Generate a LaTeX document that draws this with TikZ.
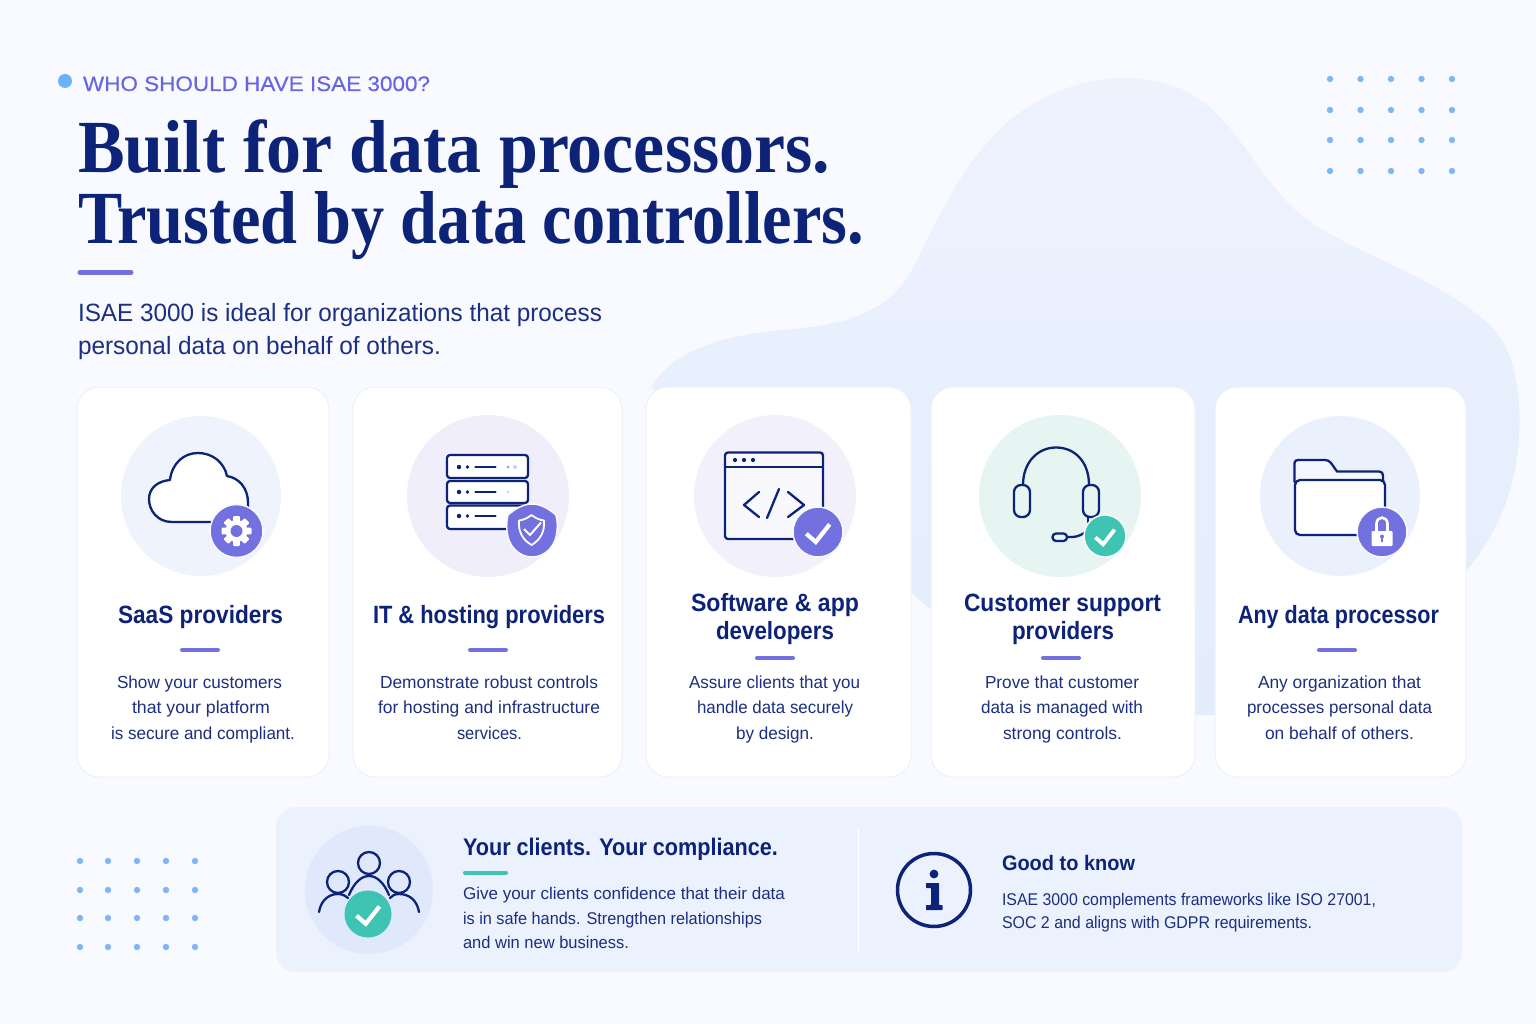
\documentclass[tikz,border=0pt]{standalone}
\usepackage{fontspec}
\usepackage{graphicx}
\setmainfont{Liberation Sans}
\newfontfamily\headfont{Liberation Serif}
\newfontfamily\medfont[FakeBold=0.35]{Liberation Sans}
\definecolor{bgc}{HTML}{F8FAFF}
\definecolor{blobtop}{HTML}{EDF2FD}
\definecolor{blobbot}{HTML}{E4EDFC}
\definecolor{navy}{HTML}{0D2377}
\definecolor{bodyc}{HTML}{1C2F80}
\definecolor{purp}{HTML}{7370E0}
\definecolor{teal2}{HTML}{3FC4B4}
\definecolor{dotc}{HTML}{80B6F4}
\definecolor{cardb}{HTML}{EBF1FC}
\definecolor{panelc}{HTML}{EBF1FD}
\definecolor{ringc}{HTML}{DFE9FB}
\definecolor{tintA}{HTML}{EEF3FD}
\definecolor{tintB}{HTML}{F0EEFA}
\definecolor{tintC}{HTML}{F2F0FB}
\definecolor{tintD}{HTML}{E6F5F2}
\definecolor{tintE}{HTML}{EAF0FC}
\definecolor{eyedot}{HTML}{6CB2FA}
\tikzset{
  txt/.style={inner sep=0pt,outer sep=0pt,anchor=base west},
  cardbox/.style={fill=white,draw=cardb,line width=1pt,rounded corners=22pt},
  icon/.style={draw=navy,line width=2.3pt,line cap=round,line join=round},
  bar/.style={line width=4pt,line cap=round,draw=purp},
  chkline/.style={draw=white,line width=4pt,line join=miter},
  badge/.style={draw=white!60!tintA,line width=1.5pt}
}
% name, x-left, x-right, baseline, size, colour, text
\newcommand{\rt}[7]{\node[txt,text=#6] (#1) at (#2,#4) {\resizebox{\dimexpr#3pt-#2pt\relax}{\height}{\fontsize{#5pt}{#5pt}\selectfont #7}};}
\newcommand{\bt}[7]{\node[txt,text=#6] (#1) at (#2,#4) {\resizebox{\dimexpr#3pt-#2pt\relax}{\height}{\fontsize{#5pt}{#5pt}\selectfont\bfseries #7}};}
\newcommand{\chk}[4]{\begin{scope}[shift={(#1,#2)},scale=#3]\draw[chkline,line width=#4pt] (-11.7,1.7) -- (-2.3,10) -- (11.7,-7.7);\end{scope}}
\begin{document}
\begin{tikzpicture}[x=1pt,y=-1pt]
\useasboundingbox (0,0) rectangle (1536,1024);
\fill[bgc] (0,0) rectangle (1536,1024);
% blob
\shade[top color=blobtop,bottom color=blobbot] (651,387) .. controls (672,352) and (720,335) .. (783,330)
  .. controls (850,325) and (890,310) .. (912,270)
  .. controls (940,215) and (960,165) .. (1010,120)
  .. controls (1060,80) and (1120,70) .. (1170,85)
  .. controls (1225,100) and (1250,165) .. (1290,205)
  .. controls (1335,250) and (1430,270) .. (1490,325)
  .. controls (1520,355) and (1522,410) .. (1518,450)
  .. controls (1512,500) and (1495,535) .. (1467,570)
  -- (1215,715) -- (1195,715) -- (931,610) -- (911,593) -- (800,500) -- cycle;
% dots
\foreach \x in {1330,1360.5,1391,1421.5,1452}\foreach \y in {79,110,140,171}\fill[dotc] (\x,\y) circle (3.2);
\foreach \x in {80,108,137,166,195}\foreach \y in {861,890,918,947}\fill[dotc] (\x,\y) circle (3.2);
% heading
\fill[eyedot] (65,81) circle (7);
\node[txt,text=purp!90!blue] (eyebrow) at (83,91) {\resizebox{347pt}{\height}{\fontsize{21pt}{21pt}\selectfont\medfont WHO SHOULD HAVE ISAE 3000?}};
\node[txt,text=navy] (titleA) at (78,172.5) {\resizebox{752pt}{\height}{\fontsize{75pt}{75pt}\selectfont\headfont\bfseries Built for data processors.}};
\node[txt,text=navy] (titleB) at (78,243.5) {\resizebox{786pt}{\height}{\fontsize{75pt}{75pt}\selectfont\headfont\bfseries Trusted by data controllers.}};
\draw[line width=5pt,line cap=round,draw=purp] (80,272.5) -- (131,272.5);
\rt{introA}{78}{602}{321}{25}{bodyc}{ISAE 3000 is ideal for organizations that process}
\rt{introB}{78}{441}{354}{25}{bodyc}{personal data on behalf of others.}
% cards
\draw[cardbox] (77,387) rectangle (329,777);
\draw[cardbox] (353,387) rectangle (622,777);
\draw[cardbox] (646,387) rectangle (911,777);
\draw[cardbox] (931,387) rectangle (1195,777);
\draw[cardbox] (1215,387) rectangle (1466,777);
% icon discs
\fill[tintA] (201,496) circle (80);
\fill[tintB] (488,496) circle (81);
\fill[tintC] (775,496) circle (81);
\fill[tintD] (1060,496) circle (81);
\fill[tintE] (1340,496) circle (80);
% cloud
\draw[icon,fill=white] (208,522) -- (172,522) .. controls (157,522) and (149,510) .. (149,499)
  .. controls (149,488) and (158,481) .. (170,480)
  .. controls (172,463) and (184,453) .. (198,453)
  .. controls (212,453) and (224,462) .. (227,476)
  .. controls (239,478) and (248,488) .. (248,503) -- (248,522) -- cycle;
\draw[badge,fill=purp] (236.5,531) circle (26.5);
\begin{scope}[shift={(236.5,531)}]
  \foreach \r in {0,45,90,135}{\fill[white,rotate=\r,rounded corners=1pt] (-3.4,-15) rectangle (3.4,15);}
  \fill[white] (0,0) circle (11);
  \fill[purp] (0,0) circle (6);
\end{scope}
% server
\draw[icon,fill=white,rounded corners=3pt] (447,455) rectangle (528,478);
\draw[icon,fill=white,rounded corners=3pt] (447,481) rectangle (528,503);
\draw[icon,fill=white,rounded corners=3pt] (447,505.5) rectangle (528,529);
\foreach \y in {467,492,516}{
  \fill[navy] (459,\y) circle (2.2);
  \fill[navy] (467.5,\y) circle (1.9);
  \draw[icon] (475.5,\y) -- (495.5,\y);
}
\fill[purp!70] (508,467) circle (1.5);
\fill[purp!35] (515,467) circle (2);
\fill[purp!35] (508,492) circle (1.5);
\draw[badge,fill=purp] (532,504) .. controls (541,504) and (549,509) .. (556,515)
  .. controls (557.5,521) and (557.5,526) .. (557,531)
  .. controls (556,546) and (545,557) .. (532,557)
  .. controls (519,557) and (508,546) .. (507,531)
  .. controls (506.5,526) and (506.5,521) .. (508,515)
  .. controls (515,509) and (523,504) .. (532,504) -- cycle;
\draw[draw=white,line width=1.8pt,line join=round] (531.5,515) .. controls (536,518.5) and (540,520) .. (544,520.5)
  .. controls (545,532) and (540,540) .. (531.5,545)
  .. controls (523,540) and (518,532) .. (519,520.5)
  .. controls (523,520) and (527,518.5) .. (531.5,515) -- cycle;
\draw[draw=white,line width=2pt] (524,529) -- (530,535) -- (541,522.5);
% code window
\draw[icon,fill=tintC!50!white,rounded corners=3pt] (725,452.5) rectangle (823,539);
\draw[icon] (725,467) -- (823,467);
\foreach \x in {735,744,753}\fill[navy] (\x,460) circle (2.1);
\draw[icon] (759,492) -- (744,505) -- (759,517);
\draw[icon] (779,489) -- (767,518);
\draw[icon] (788,492) -- (804,505) -- (788,517);
\draw[badge,fill=purp] (818,532) circle (25);
\chk{818}{532}{1}{4.2}
% headset
\draw[icon] (1023,485) .. controls (1023,462) and (1038,447.5) .. (1056,447.5)
  .. controls (1075,447.5) and (1089,462) .. (1089,485);
\draw[icon,rounded corners=7pt] (1014,485) rectangle (1030,517);
\draw[icon,rounded corners=7pt] (1083,485) rectangle (1099,517);
\draw[icon] (1088,517) -- (1088,522);
\draw[icon,rounded corners=3.5pt] (1052.5,533.5) rectangle (1067,541);
\draw[icon] (1067,537) .. controls (1074,537.5) and (1079,536.5) .. (1084,533);
\draw[badge,fill=teal2] (1105,536) circle (21);
\chk{1105}{536}{0.82}{3.8}
% folder
\draw[icon,fill=white!50!tintE] (1294.5,482) -- (1294.5,463) .. controls (1294.5,461) and (1296,460) .. (1298,460)
  -- (1325,460) .. controls (1328,460) and (1329,461) .. (1331,463) -- (1337,471.5) -- (1379,471.5)
  .. controls (1382,471.5) and (1383,473) .. (1383,476) -- (1383,482);
\draw[icon,fill=white,rounded corners=5pt] (1295,480) rectangle (1385,535);
\draw[badge,fill=purp] (1382,532) circle (25);
\draw[draw=white,line width=2.6pt] (1376.5,533) -- (1376.5,524) .. controls (1376.5,515.5) and (1387.5,515.5) .. (1387.5,524) -- (1387.5,533);
\fill[white,rounded corners=1pt] (1371.5,531) rectangle (1392.5,546);
\fill[purp] (1382,536.5) circle (2);
\fill[purp] (1381.2,536.5) rectangle (1382.8,541.5);
% card titles
\bt{tA}{118}{283}{623}{25}{navy}{SaaS providers}
\bt{tB}{373}{605}{623}{25}{navy}{IT \& hosting providers}
\bt{tCa}{691}{859}{611}{25}{navy}{Software \& app}
\bt{tCb}{716}{834}{639}{25}{navy}{developers}
\bt{tDa}{964}{1161}{611}{25}{navy}{Customer support}
\bt{tDb}{1012}{1114}{639}{25}{navy}{providers}
\bt{tE}{1238}{1439}{623}{25}{navy}{Any data processor}
% card bars
\draw[bar] (182,650) -- (218,650);
\draw[bar] (470,650) -- (506,650);
\draw[bar] (757,658) -- (793,658);
\draw[bar] (1043,658) -- (1079,658);
\draw[bar] (1319,650) -- (1355,650);
% card texts
\rt{bAa}{117}{282}{688}{17.5}{bodyc}{Show your customers}
\rt{bAb}{132}{270}{713}{17.5}{bodyc}{that your platform}
\rt{bAc}{111}{295}{739}{17.5}{bodyc}{is secure and compliant.}
\rt{bBa}{380}{598}{688}{17.5}{bodyc}{Demonstrate robust controls}
\rt{bBb}{378}{600}{713}{17.5}{bodyc}{for hosting and infrastructure}
\rt{bBc}{457}{522}{739}{17.5}{bodyc}{services.}
\rt{bCa}{689}{860}{688}{17.5}{bodyc}{Assure clients that you}
\rt{bCb}{697}{853}{713}{17.5}{bodyc}{handle data securely}
\rt{bCc}{736}{814}{739}{17.5}{bodyc}{by design.}
\rt{bDa}{985}{1139}{688}{17.5}{bodyc}{Prove that customer}
\rt{bDb}{981}{1143}{713}{17.5}{bodyc}{data is managed with}
\rt{bDc}{1003}{1122}{739}{17.5}{bodyc}{strong controls.}
\rt{bEa}{1258}{1421}{688}{17.5}{bodyc}{Any organization that}
\rt{bEb}{1247}{1432}{713}{17.5}{bodyc}{processes personal data}
\rt{bEc}{1265}{1414}{739}{17.5}{bodyc}{on behalf of others.}
% bottom panel
\fill[panelc,rounded corners=20pt] (276,807) rectangle (1462,972);
\fill[ringc] (369,890) circle (64);
\draw[icon] (369,863) circle (11);
\draw[icon] (338,882) circle (11);
\draw[icon] (399,882) circle (11);
\draw[icon] (349,895) .. controls (354,883) and (361,876) .. (369,876) .. controls (377,876) and (384,883) .. (389,895);
\draw[icon] (319,912) .. controls (321,900) and (329,894) .. (338,894) .. controls (342,894) and (345,895.5) .. (348,898);
\draw[icon] (419,912) .. controls (417,900) and (409,894) .. (399,894) .. controls (395,894) and (392,895.5) .. (390,898);
\fill[teal2] (368,914) circle (23.5);
\chk{368}{914}{0.98}{4.2}
\bt{pA}{463}{778}{855.5}{24}{navy}{Your clients. Your compliance.}
\draw[line width=4pt,line cap=round,draw=teal2] (465,872.5) -- (506,872.5);
\rt{pBa}{463}{785}{899.5}{17}{bodyc}{Give your clients confidence that their data}
\rt{pBb}{463}{762}{924.5}{17}{bodyc}{is in safe hands. Strengthen relationships}
\rt{pBc}{463}{629}{948.5}{17}{bodyc}{and win new business.}
\draw[white,line width=1.5pt] (858.5,828) -- (858.5,952);
% info
\draw[draw=navy,line width=3.5pt] (934,890) circle (36.5);
\fill[navy] (934,874) circle (4.4);
\fill[navy,rounded corners=0.6pt] (926,883) -- (939,883) -- (939,905) -- (942.5,905) -- (942.5,910) -- (926,910) -- (926,905) -- (931,905) -- (931,888) -- (926,888) -- cycle;
\bt{gA}{1002}{1135}{870}{21}{navy}{Good to know}
\rt{gBa}{1002}{1376}{905}{17}{bodyc}{ISAE 3000 complements frameworks like ISO 27001,}
\rt{gBb}{1002}{1312}{928}{17}{bodyc}{SOC 2 and aligns with GDPR requirements.}
\end{tikzpicture}
\end{document}
